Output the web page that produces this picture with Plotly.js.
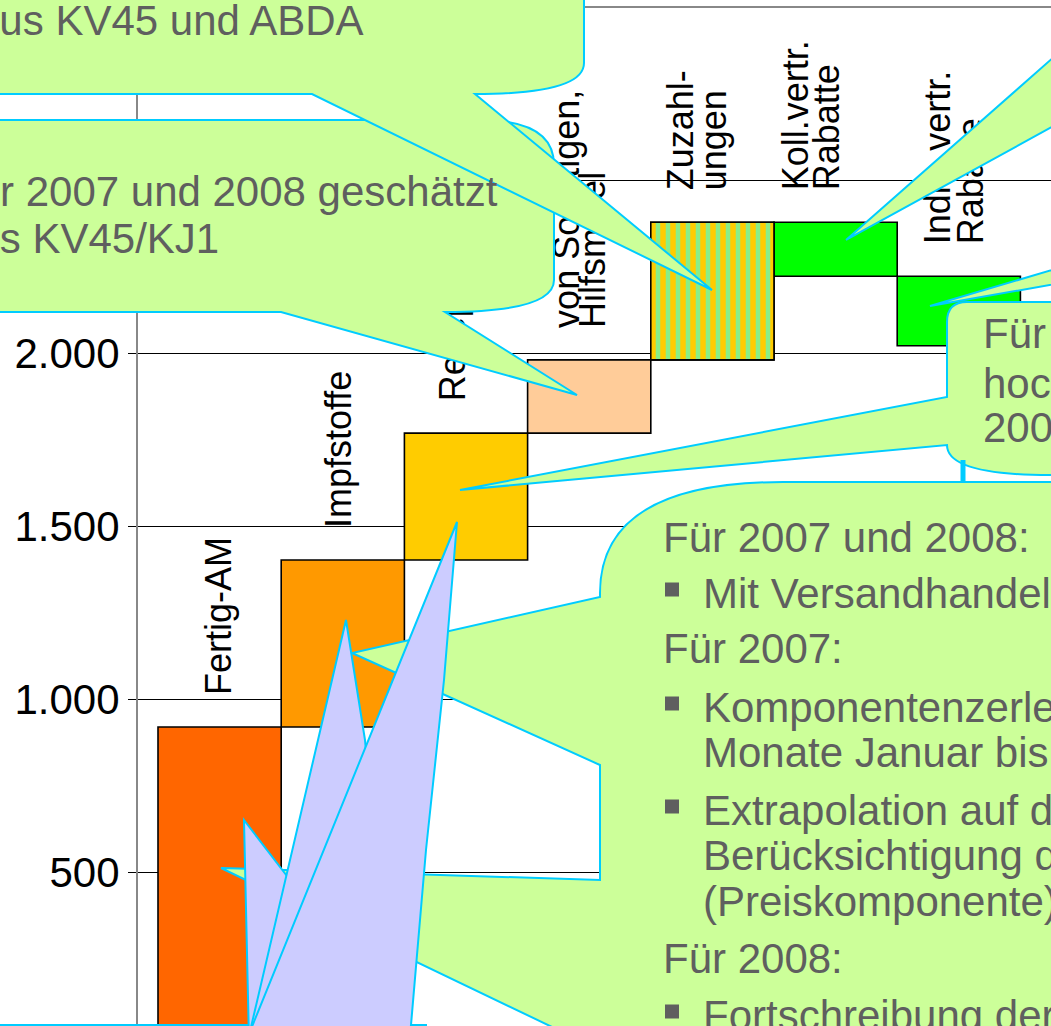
<!DOCTYPE html>
<html>
<head>
<meta charset="utf-8">
<script src="https://cdn.plot.ly/plotly-3.0.1.min.js"></script>
<style>
html,body{margin:0;padding:0;overflow:hidden;background:#ffffff;}
#wrap{width:1051px;height:1026px;overflow:hidden;position:relative;}
</style>
</head>
<body>
<div id="wrap"><div id="chart"></div></div>
<script>
// ---------- data ----------
const categories = ["Fertig-AM", "Impfstoffe", "Rezepturen", "von Sonstigen, Hilfsmittel", "Zuzahlungen", "Koll.vertr. Rabatte", "Indiv. vertr. Rabatte"];
const categoryLabels = ["Fertig-AM", "Impfstoffe", "Rezepturen", "von Sonstigen,<br>Hilfsmittel", "Zuzahl-<br>ungen", "Koll.vertr.<br>Rabatte", "Indiv. vertr.<br>Rabatte"];
const deltas = [920, 483, 367, 212, 398, -156, -201];
const barColors = ["#FF6600", "#FF9900", "#FFCC00", "#FFCC99", "#88EE88", "#00FF00", "#00FF00"];
const barStriped = [false, false, false, false, true, false, false];
const stripeColor = "#FFCC00";
const tickValues = [500, 1000, 1500, 2000, 2500];
const tickLabels = ["500", "1.000", "1.500", "2.000", ""];

const noteTopLeft = ["aus KV45 und ABDA"];
const noteMidLeft = ["Für 2007 und 2008 geschätzt", "aus KV45/KJ1"];
const noteRight = ["Für 2008", "hochgerechnet", "2007"];
const noteMain = ["Für 2007 und 2008:", "Mit Versandhandel", "Für 2007:", "Komponentenzerlegung für die",
                  "Monate Januar bis", "Extrapolation auf das", "Berücksichtigung der", "(Preiskomponente)",
                  "Für 2008:", "Fortschreibung der"];
const noteMainBullet = [false, true, false, true, false, true, false, false, false, true];

// ---------- geometry (layout only) ----------
const L = 138, T = 8, PW = 1252, PH = 1037;
const W = L + PW + 20, H = T + PH + 50;
const YMAX = 3000;
const unitPx = 123.2;
const x0 = -0.5 - 20 / unitPx;
const xRange = [x0, x0 + PW / unitPx];
const fx = x => (x - L) / PW;
const fy = y => 1 - (y - T) / PH;
function path(s) {
  return s.replace(/(-?\d+(?:\.\d+)?)\s*,\s*(-?\d+(?:\.\d+)?)/g,
    (m, a, b) => fx(+a).toFixed(5) + ',' + fy(+b).toFixed(5));
}
// horizontal shift (px) of each label line relative to the bar centre
const line1ShiftPx = [-1, -4, -14, -23, -32, -40, -21];
const line2ShiftPx = [0, 0, 0, 3, 1, -9, 12];

const FONT = 'Liberation Sans, Arial, sans-serif';
const GREEN = '#CCFF99', CYAN = '#00CCFF', LAV = '#CCCCFF', TXT = '#5F5F5F';

// waterfall bases
const idx = deltas.map((d, i) => i);
const starts = [];
let run = 0;
deltas.forEach(d => { starts.push(run); run += d; });
const tops = deltas.map((d, i) => Math.max(starts[i], starts[i] + d));
const gapUnits = 29 * YMAX / PH;

const mainTrace = {
  type: 'bar', x: idx, y: deltas, base: starts, width: 1,
  marker: {color: barColors, line: {color: '#000000', width: 1.6}},
  hoverinfo: 'skip', showlegend: false
};
const sIdx = idx.filter(i => barStriped[i]);
const stripeTrace = {
  type: 'bar', x: sIdx, y: sIdx.map(i => deltas[i]), base: sIdx.map(i => starts[i]), width: 1,
  marker: {
    color: sIdx.map(i => barColors[i])[0],
    line: {color: '#000000', width: 1.6},
    pattern: {shape: '|', fgcolor: stripeColor, bgcolor: sIdx.map(i => barColors[i])[0],
              fgopacity: 1, size: 10, solidity: 0.55, fillmode: 'overlay'}
  },
  hoverinfo: 'skip', showlegend: false
};
const lines1 = categoryLabels.map(s => s.split('<br>')[0]);
const lines2 = categoryLabels.map(s => s.split('<br>')[1] || '');
const LW = 0.05;
function labelTrace(texts, shifts) {
  return {
    type: 'bar', x: idx, y: deltas.map(() => gapUnits), base: tops,
    width: LW, offset: shifts.map(s => s / unitPx - LW / 2),
    marker: {color: 'rgba(0,0,0,0)', line: {width: 0}},
    text: texts, textposition: 'outside', textangle: -90,
    outsidetextfont: {size: 36, color: '#000000', family: FONT},
    constraintext: 'none', cliponaxis: false, hoverinfo: 'skip', showlegend: false
  };
}

function bubble(p, fill) {
  return {type: 'path', xref: 'paper', yref: 'paper', path: path(p),
          fillcolor: fill, line: {color: CYAN, width: 2}, layer: 'above'};
}
const shapes = [
  bubble("M 947,322 Q 947,302 967,302 L 1130,302 L 1130,475 L 1050,475 Q 947,475 947,445 L 460,490 L 947,397 Z", GREEN),
  bubble("M 930,306 L 1130,247 L 1130,271 Z", GREEN),
  bubble("M 846,240 L 1130,-10 L 1130,84 Z", GREEN),
  bubble("M 783,482 L 1130,482 L 1130,1130 L 600,1130 L 600,1050 L 221,868 L 600,880 L 600,765 L 352,653 L 600,597 L 600,593 Q 600,482 783,482 Z", GREEN),
  {type: 'line', xref: 'paper', yref: 'paper', x0: fx(963), x1: fx(963), y0: fy(460), y1: fy(483),
   line: {color: CYAN, width: 5}, layer: 'above'},
  bubble("M -60,120 L 480,120 Q 554,120 554,165 L 554,280 Q 554,312 445,312 L 577,395 L 281,312 L -60,312 Z", GREEN),
  bubble("M -60,-60 L 584,-60 L 584,63 Q 584,94 475,94 L 712,290 L 312,94 L -60,94 Z", GREEN),
  bubble("M -60,1025 L 426,1025 L 426,1130 L -60,1130 Z", LAV),
  bubble("M 244,820 L 290,880 L 290,1130 L 251,1130 Z", LAV),
  bubble("M 346,620 L 365,740 L 400,1130 L 227,1130 Z", LAV),
  bubble("M 457,522 L 444,680 L 426,850 L 402,1130 L 210,1130 Z", LAV)
];

const annotations = [];
function note(text, x, y, size) {
  annotations.push({text: text, xref: 'paper', yref: 'paper', x: fx(x), y: fy(y),
    xanchor: 'left', yanchor: 'middle', showarrow: false, borderpad: 0, borderwidth: 0,
    font: {size: size || 42, color: TXT, family: FONT}});
}
note(noteTopLeft[0], -24, 20);
note(noteMidLeft[0], -49, 192);
note(noteMidLeft[1], -47, 239);
const rightY = [333, 383, 427.5];
noteRight.forEach((t, i) => note(t, 983, rightY[i]));
const mainY = [537, 593, 648.5, 707, 752.5, 810, 855, 901, 958, 1015];
const mainX = [663, 703, 663, 703, 703, 703, 703, 703, 663, 703];
noteMain.forEach((t, i) => {
  note(t, mainX[i], mainY[i]);
  if (noteMainBullet[i]) {
    shapes.push({type: 'rect', xref: 'paper', yref: 'paper',
      x0: fx(665), x1: fx(679), y0: fy(mainY[i] - 3.5 - 7), y1: fy(mainY[i] - 3.5 + 7),
      fillcolor: TXT, line: {width: 0}, layer: 'above'});
  }
});

const layout = {
  width: W, height: H,
  margin: {l: L, t: T, r: W - L - PW, b: H - T - PH, pad: 0},
  paper_bgcolor: '#ffffff', plot_bgcolor: '#ffffff',
  barmode: 'overlay', bargap: 0, showlegend: false,
  font: {family: FONT},
  xaxis: {type: 'linear', range: xRange, showgrid: false, zeroline: false,
          showticklabels: false, ticks: '', showline: true, mirror: true,
          linecolor: '#888888', linewidth: 2},
  yaxis: {range: [0, YMAX], tickmode: 'array', tickvals: tickValues, ticktext: tickLabels,
          ticks: 'outside', ticklen: 8, tickcolor: '#000000', tickwidth: 1,
          showgrid: true, gridcolor: '#000000', gridwidth: 1, zeroline: false,
          showline: true, mirror: true, linecolor: '#888888', linewidth: 2,
          tickfont: {size: 42, color: '#000000', family: FONT}},
  shapes: shapes,
  annotations: annotations
};

Plotly.newPlot('chart', [mainTrace, stripeTrace, labelTrace(lines1, line1ShiftPx), labelTrace(lines2, line2ShiftPx)],
               layout, {staticPlot: true, displayModeBar: false});
</script>
</body>
</html>
